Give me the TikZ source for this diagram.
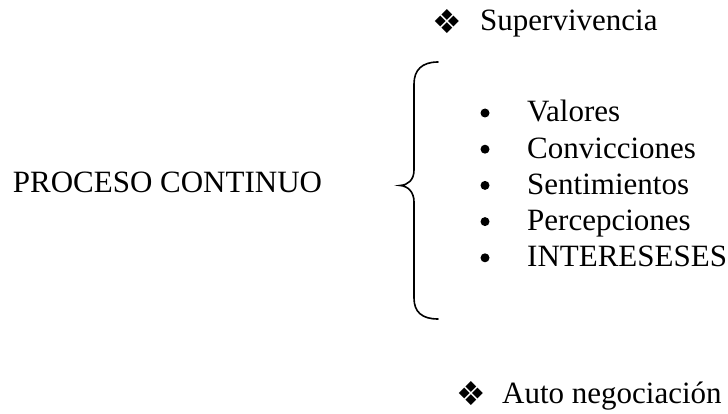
\documentclass[tikz,border=0pt]{standalone}
\usepackage{fontspec}
\setmainfont{Liberation Serif}
\newfontfamily\symfont{DejaVu Sans}
\begin{document}
\begin{tikzpicture}[x=1pt,y=-1pt,
  lbl/.style={anchor=base west,inner sep=0pt,font=\fontsize{31}{37}\selectfont},
  sym/.style={anchor=center,inner sep=0pt,font=\symfont\fontsize{33}{38}\selectfont},
  dot/.style={circle,fill=black,inner sep=0pt,minimum size=9pt},
  bracestyle/.style={line width=1.6pt,line cap=round}]
\useasboundingbox (0,0) rectangle (728,414);
\node[lbl] (top) at (480,31) {Supervivencia};
\node[sym] (topsym) at (447,22) {❖};
\node[lbl] (proc) at (12.7,193) {PROCESO CONTINUO};
\foreach \t [count=\i from 0] in {Valores,Convicciones,Sentimientos,Percepciones,INTERESESES}{
  \node[lbl] (item\i) at (527,122+36.2*\i) {\t};
  \node[dot] (bul\i) at (485,113+36.2*\i) {};
}
\node[lbl] (bot) at (502,403) {Auto negociación};
\node[sym] (botsym) at (471,394) {❖};
\draw[bracestyle] (438,62) .. controls (422,62) and (414,70) .. (414,84) -- (414,170)
  .. controls (414,180) and (408,185) .. (400,185.5)
  .. controls (408,186) and (414,192) .. (414,202) -- (414,298)
  .. controls (414,312) and (422,319) .. (438,319);
\end{tikzpicture}
\end{document}
